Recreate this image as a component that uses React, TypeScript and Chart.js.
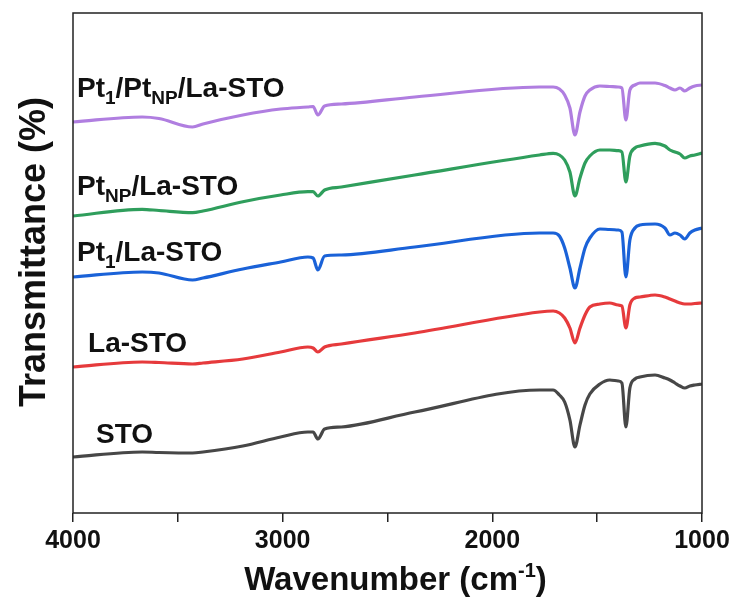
import React, { useEffect, useRef } from "react";
import { Chart, registerables } from "chart.js";

Chart.register(...registerables);

// Wavenumber grid (cm-1)
const wavenumbers = [
  4000, 3670, 3590, 3430, 3380, 3190, 3010, 2880, 2855, 2832, 2800, 2720, 2370,
  1775, 1710, 1680, 1655, 1630, 1606, 1582, 1558, 1535, 1487, 1440, 1400, 1382,
  1363, 1344, 1320, 1296, 1224, 1177, 1153, 1129, 1105, 1082, 1058, 1034, 1000,
];

// Offset transmittance (a.u.) for each sample
const stoT = [
  56, 61, 60.5, 60, 61, 67, 76, 81, 81, 74, 84, 86, 101,
  123, 123, 118, 111, 93, 66, 88, 108, 119, 129, 133, 132, 130,
  86, 125, 134, 136, 138, 135, 133, 130, 127, 125, 127, 128, 129,
];
const laStoT = [
  146, 151, 150.5, 149, 150, 154, 161, 166, 165, 161, 166, 169, 180,
  201, 202, 200, 195, 185, 170, 185, 198, 206, 209, 210, 208, 207,
  185, 208, 215, 216, 218, 216, 214, 212, 210, 209, 209, 209.5, 210,
];
const pt1LaStoT = [
  236, 241, 240, 233, 235, 244, 251, 256, 255, 243, 257, 258, 266,
  280, 280, 277, 265, 245, 225, 245, 265, 275, 284, 283.5, 283, 281,
  236, 273, 285, 288, 289, 285, 278, 280, 278, 274, 280, 283, 285,
];
const ptNpLaStoT = [
  297, 303.7, 302.5, 300.3, 302, 311.3, 318, 321.3, 321.3, 317, 323, 326, 338,
  358, 359.7, 358, 353, 341, 317, 335, 350, 357, 363, 363, 362.3, 361,
  331, 357, 365, 367, 369.7, 367, 363, 361, 359, 355, 357, 358, 360,
];
const pt1PtNpLaStoT = [
  391, 396, 394.5, 386, 389, 398, 404, 406, 406.5, 398, 407, 409, 416,
  426, 426, 424, 418, 405, 378, 401, 417, 423, 427, 426.5, 426, 425,
  393, 423, 428, 430, 430, 427.5, 425, 423, 425, 422, 425, 427, 428,
];

const xTickValues = [4000, 3500, 3000, 2500, 2000, 1500, 1000];
const xLabeledTicks = [4000, 3000, 2000, 1000];

// Curve labels: text pieces (sub = subscript), anchor wavenumber, anchor value
const labelPieces = [
  [["Pt", false], ["1", true], ["/Pt", false], ["NP", true], ["/La-STO", false]],
  [["Pt", false], ["NP", true], ["/La-STO", false]],
  [["Pt", false], ["1", true], ["/La-STO", false]],
  [["La-STO", false]],
  [["STO", false]],
];
const labelX = [3981, 3981, 3981, 3928, 3890];
const labelY = [416, 318, 252, 161, 70];

const seriesNames = ["STO", "La-STO", "Pt1/La-STO", "PtNP/La-STO", "Pt1/PtNP/La-STO"];
const seriesColors = ["#474747", "#e63a3c", "#1a62d8", "#2f9e5c", "#b07ee0"];

const FONT = "'Liberation Sans', Arial, sans-serif";

export default function App() {
  const ref = useRef<HTMLCanvasElement>(null);

  useEffect(() => {
    document.body.style.margin = "0";
    const canvas = ref.current;
    if (!canvas) return;
    const all = [stoT, laStoT, pt1LaStoT, ptNpLaStoT, pt1PtNpLaStoT];

    const decor = {
      id: "decor",
      afterDraw(chart: any) {
        const { ctx, chartArea, scales } = chart;
        const { left, right, top, bottom } = chartArea;
        ctx.save();
        // frame
        ctx.strokeStyle = "#222";
        ctx.lineWidth = 1.5;
        ctx.strokeRect(left, top, right - left, bottom - top);

        ctx.fillStyle = "#111";
        // curve labels
        labelPieces.forEach((pieces: any, i: number) => {
          let x = scales.x.getPixelForValue(labelX[i]);
          const y = scales.y.getPixelForValue(labelY[i]);
          ctx.textBaseline = "alphabetic";
          ctx.textAlign = "left";
          pieces.forEach(([t, sub]: any) => {
            ctx.font = sub ? `bold 19px ${FONT}` : `bold 28px ${FONT}`;
            ctx.fillText(t, x, sub ? y + 7 : y);
            x += ctx.measureText(t).width;
          });
        });

        // x title with superscript
        const parts: [string, boolean][] = [["Wavenumber (cm", false], ["-1", true], [")", false]];
        let total = 0;
        parts.forEach(([t, sup]) => {
          ctx.font = sup ? `bold 20px ${FONT}` : `bold 33px ${FONT}`;
          total += ctx.measureText(t).width;
        });
        let tx = (left + right) / 2 - total / 2 + 8;
        const ty = 590;
        parts.forEach(([t, sup]) => {
          ctx.font = sup ? `bold 20px ${FONT}` : `bold 33px ${FONT}`;
          ctx.fillText(t, tx, sup ? ty - 13 : ty);
          tx += ctx.measureText(t).width;
        });

        // y title
        ctx.translate(35, (top + bottom) / 2 - 11);
        ctx.rotate(-Math.PI / 2);
        ctx.font = `bold 36px ${FONT}`;
        ctx.textAlign = "center";
        ctx.textBaseline = "middle";
        ctx.fillText("Transmittance (%)", 0, 0);
        ctx.restore();
      },
    };

    const chart = new Chart(canvas, {
      type: "line",
      data: {
        datasets: all.map((arr, i) => ({
          label: seriesNames[i],
          data: wavenumbers.map((x, j) => ({ x, y: arr[j] })),
          borderColor: seriesColors[i],
          borderWidth: 3.2,
          pointRadius: 0,
          fill: false,
          cubicInterpolationMode: "monotone" as const,
        })),
      },
      options: {
        responsive: false,
        animation: false,
        layout: { padding: { top: 13, right: 34, left: 0, bottom: 0 } },
        plugins: { legend: { display: false }, tooltip: { enabled: false } },
        scales: {
          x: {
            type: "linear",
            reverse: true,
            min: 1000,
            max: 4000,
            afterFit: (s: any) => {
              s.height = 92;
            },
            afterBuildTicks: (s: any) => {
              s.ticks = xTickValues.map((v) => ({ value: v }));
            },
            ticks: {
              autoSkip: false,
              maxRotation: 0,
              padding: 4,
              color: "#111",
              font: { family: FONT, size: 25, weight: "bold" },
              callback: (v: any) => (xLabeledTicks.includes(Number(v)) ? String(v) : ""),
            },
            grid: {
              drawOnChartArea: false,
              drawTicks: true,
              tickLength: 9,
              color: "#222",
              lineWidth: 1.5,
            },
            border: { display: false },
          },
          y: {
            min: 0,
            max: 500,
            afterFit: (s: any) => {
              s.width = 73;
            },
            ticks: { display: false },
            grid: { display: false, drawTicks: false },
            border: { display: false },
          },
        },
      },
      plugins: [decor],
    });
    return () => chart.destroy();
  }, []);

  return <canvas ref={ref} width={736} height={605} style={{ display: "block" }} />;
}
